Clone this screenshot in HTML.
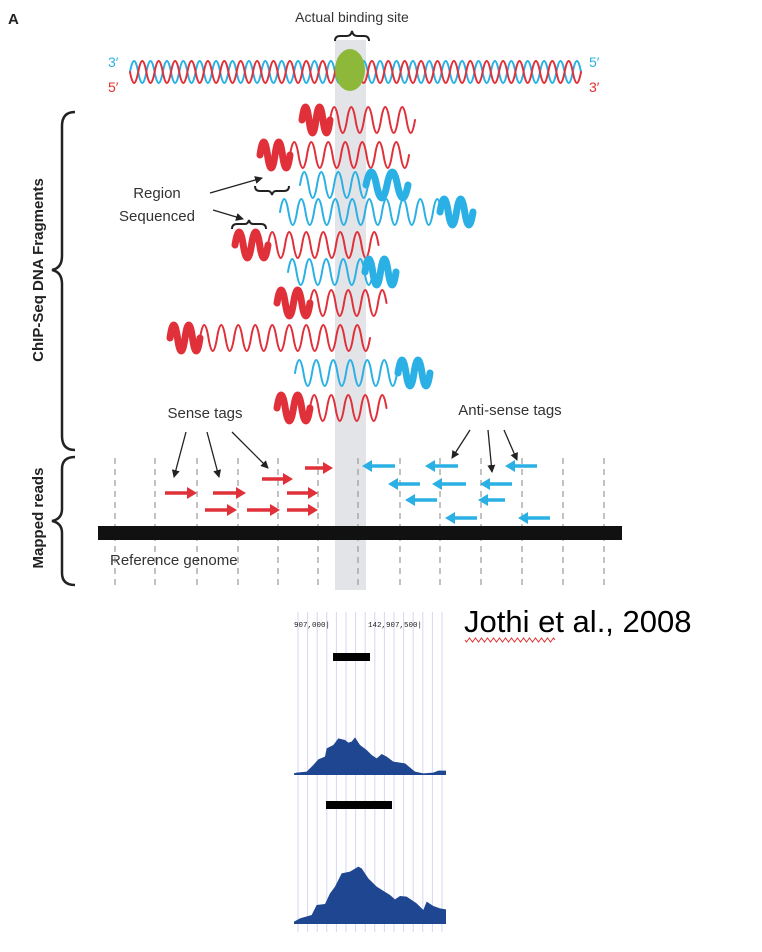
<!DOCTYPE html>
<html><head><meta charset="utf-8"><style>
html,body{margin:0;padding:0;background:#fff;}
svg{display:block;font-family:"Liberation Sans",Arial,sans-serif;}
</style></head><body>
<svg id="s" width="762" height="952" viewBox="0 0 762 952" xmlns="http://www.w3.org/2000/svg">
<defs><marker id="ah" markerWidth="8" markerHeight="8" refX="7" refY="4" orient="auto" markerUnits="userSpaceOnUse"><path d="M0,0 L8,4 L0,8 z" fill="#222"/></marker></defs>
<rect x="335" y="40" width="31" height="550" fill="#e3e4e8"/>
<g id="waves"></g>
<ellipse cx="350" cy="70" rx="15" ry="21" fill="#8db83a"/>
<text x="8" y="24" font-size="15" font-weight="bold" fill="#222">A</text>
<text x="352" y="22" font-size="14" text-anchor="middle" fill="#333">Actual binding site</text>
<path d="M335,41 q0,-5 5,-5 h7 q4,0 5,-5 q1,5 5,5 h7 q5,0 5,5" fill="none" stroke="#222" stroke-width="2"/>
<text x="108" y="67" font-size="14" fill="#2bb0e0">3′</text>
<text x="108" y="92" font-size="14" fill="#e03030">5′</text>
<text x="589" y="67" font-size="14" fill="#2bb0e0">5′</text>
<text x="589" y="92" font-size="14" fill="#e03030">3′</text>
<path d="M75,112 q-13,0 -13,14 v130 q0,12 -10,14 q10,2 10,14 v152 q0,14 13,14" fill="none" stroke="#222" stroke-width="2.5"/>
<path d="M75,457 q-13,0 -13,12 v40 q0,10 -10,12 q10,2 10,12 v40 q0,12 13,12" fill="none" stroke="#222" stroke-width="2.5"/>
<text transform="translate(43,270) rotate(-90)" font-size="15" font-weight="bold" text-anchor="middle" fill="#222">ChIP-Seq DNA Fragments</text>
<text transform="translate(43,518) rotate(-90)" font-size="15" font-weight="bold" text-anchor="middle" fill="#222">Mapped reads</text>
<text x="157" y="198" font-size="15" text-anchor="middle" fill="#333">Region</text>
<text x="157" y="221" font-size="15" text-anchor="middle" fill="#333">Sequenced</text>
<line x1="210" y1="193" x2="262" y2="178" stroke="#222" stroke-width="1.3" marker-end="url(#ah)"/>
<line x1="213" y1="210" x2="243" y2="219" stroke="#222" stroke-width="1.3" marker-end="url(#ah)"/>
<path d="M255,170 q0,-5 5,-5 h8 q3,0 4,-4 q1,4 4,4 h8 q5,0 5,5" fill="none" stroke="#222" stroke-width="2" transform="translate(0,12) scale(1,-1) translate(0,-344)"/>
<path d="M232,271 q0,-5 5,-5 h8 q3,0 4,-4 q1,4 4,4 h8 q5,0 5,5" fill="none" stroke="#222" stroke-width="2" transform="translate(0,-42)"/>
<text x="205" y="418" font-size="15" text-anchor="middle" fill="#333">Sense tags</text>
<text x="510" y="415" font-size="15" text-anchor="middle" fill="#333">Anti-sense tags</text>
<g stroke="#222" stroke-width="1.3" marker-end="url(#ah)">
<line x1="186" y1="432" x2="174" y2="477"/><line x1="207" y1="432" x2="219" y2="477"/><line x1="232" y1="432" x2="268" y2="468"/>
<line x1="470" y1="430" x2="452" y2="458"/><line x1="488" y1="430" x2="492" y2="472"/><line x1="504" y1="430" x2="517" y2="460"/>
</g>
<g id="dash" stroke="#999" stroke-width="1.2" stroke-dasharray="6,5"></g>
<rect x="98" y="526" width="524" height="14" fill="#111"/>
<text x="110" y="565" font-size="15" fill="#333">Reference genome</text>
<g id="arr"></g>
<text x="464" y="632" font-size="31" fill="#000">Jothi et al., 2008</text>
<path id="sq" fill="none" stroke="#e03030" stroke-width="1"/>
<g id="vl" stroke="#d6d6f6" stroke-width="1"></g>
<text x="294" y="627" font-family="Liberation Mono,monospace" font-size="7.5" fill="#222">907,000|</text>
<text x="368" y="627" font-family="Liberation Mono,monospace" font-size="7.5" fill="#222">142,907,500|</text>
<rect x="333" y="653" width="37" height="8" fill="#000"/>
<rect x="326" y="801" width="66" height="8" fill="#000"/>
<g transform="translate(280,600) scale(0.33333)" fill="#1f4690">
<path d="M42,525 L42,520 50,518 80,515 100,495 115,478 135,470 140,445 160,435 175,415 195,420 205,428 215,425 225,412 240,435 260,450 275,465 290,475 305,462 320,470 340,485 375,490 405,515 430,520 460,518 475,512 498,512 498,525 Z"/>
<path d="M42,972 L42,965 60,955 95,945 110,915 135,912 150,880 165,860 185,820 210,815 235,800 245,805 265,835 290,860 330,885 345,898 360,888 380,890 410,910 430,930 440,905 460,918 480,925 498,928 498,972 Z"/>
</g>
</svg>
<script>
var NS="http://www.w3.org/2000/svg";
function el(p,n,a){var e=document.createElementNS(NS,n);for(var k in a)e.setAttribute(k,a[k]);p.appendChild(e);return e;}
function wave(x0,x1,y,half,amp,col,sw,up){var d="M"+x0+","+y,x=x0,s=up?-1:1;while(x<x1-0.1){d+=" Q"+(x+half/2)+","+(y+s*2*amp)+" "+(x+half)+","+y;x+=half;s=-s;}
el(document.getElementById("waves"),"path",{d:d,fill:"none",stroke:col,"stroke-width":sw,"stroke-linecap":"round"});}
var R="#e0303a",B="#2ab0e4";
wave(130,580,72,8.2,11,B,2,true);wave(130,580,72,8.2,11,R,2,false);
function frag(c,y,tx0,tx1,tk0,tk1){wave(tx0,tx1,y,8.5,13,c,2,true);wave(tk0,tk1,y,(tk1-tk0)/4,13,c,7,true);}
frag(R,120,330,410,302,330);
frag(R,155,290,401,260,290);
frag(B,185,300,366,366,408);
frag(B,212,280,440,440,473);
frag(R,245,268,372,235,268);
frag(B,272,288,365,365,396);
frag(R,303,310,385,277,310);
frag(R,338,200,362,170,200);
frag(B,373,295,398,398,430);
frag(R,408,310,383,277,310);
var dg=document.getElementById("dash");
[115,155,197,238,278,318,358,400,440,481,522,563,604].forEach(function(x){el(dg,"line",{x1:x,y1:458,x2:x,y2:588});});
var ag=document.getElementById("arr");
function ar(x0,x1,y,c){var dir=x1>x0?1:-1;el(ag,"line",{x1:x0,y1:y,x2:x1-dir*8,y2:y,stroke:c,"stroke-width":3.5});
el(ag,"path",{d:"M"+x1+","+y+" L"+(x1-dir*10)+","+(y-6)+" L"+(x1-dir*10)+","+(y+6)+" Z",fill:c});}
[[305,333,468],[262,293,479],[165,197,493],[213,246,493],[287,318,493],[205,237,510],[247,280,510],[287,318,510]].forEach(function(a){ar(a[0],a[1],a[2],R);});
[[395,362,466],[458,425,466],[537,505,466],[420,388,484],[466,432,484],[512,480,484],[437,405,500],[505,478,500],[477,445,518],[550,518,518]].forEach(function(a){ar(a[0],a[1],a[2],B);});
var d="M465,640";for(var x=465;x<553;x+=3){d+=" L"+(x+1.5)+","+(x%6?642:638)+" L"+(x+3)+",640";}document.getElementById("sq").setAttribute("d",d);
var vl=document.getElementById("vl");for(var x=298;x<=445;x+=9.6){el(vl,"line",{x1:x,y1:612,x2:x,y2:932});}
</script>
</body></html>
